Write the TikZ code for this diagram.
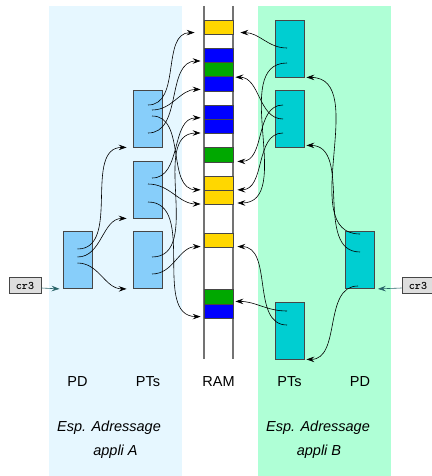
\documentclass[tikz,border=0pt]{standalone}
\usepackage{fontspec}
\setmainfont{Liberation Sans}
\usetikzlibrary{arrows.meta,calc}
\definecolor{bgA}{RGB}{230,247,255}
\definecolor{bgB}{RGB}{175,255,214}
\definecolor{ptAcol}{RGB}{135,206,250}
\definecolor{ptBcol}{RGB}{0,206,209}
\definecolor{ramY}{RGB}{255,215,0}
\definecolor{ramB}{RGB}{0,0,255}
\definecolor{ramG}{RGB}{0,168,0}
\definecolor{regcol}{RGB}{40,100,105}
\definecolor{edge}{RGB}{70,70,70}

\begin{document}
\begin{tikzpicture}[x=1pt,y=-1pt,
  tbl/.style={draw=edge,line width=.8pt,minimum width=29pt,minimum height=57pt,inner sep=0pt},
  cell/.style={draw=edge,line width=.8pt,minimum width=29pt,minimum height=14.2pt,inner sep=0pt},
  reg/.style={draw=edge,fill=black!13,line width=.7pt,inner sep=0pt,minimum width=32pt,minimum height=16pt,font=\fontsize{11.5}{12}\selectfont\ttfamily\bfseries},
  ptr/.style={-{Stealth[length=8pt,width=5.5pt,inset=3pt]},line width=.6pt},
  toR/.style={out=0,in=180},
  toL/.style={out=180,in=0},
  lbl/.style={font=\fontsize{14.5}{17}\selectfont},
  ilbl/.style={font=\fontsize{14.5}{17}\selectfont\itshape}]
  \useasboundingbox (0,0) rectangle (431,476);
  % address spaces
  \fill[bgA] (49,6) rectangle (182,476);
  \fill[bgB] (258,6) rectangle (391,476);
  % RAM
  \draw[black!55,line width=1.2pt] (204,6) -- (204,359) (233,6) -- (233,359);
  \foreach \i/\col in {0/ramY,2/ramB,3/ramG,4/ramB,6/ramB,7/ramB,9/ramG,11/ramY,12/ramY,15/ramY,19/ramG,20/ramB}
    \node[cell,fill=\col] (c\i) at (218.5,{27.1+14.2*\i}) {};
  % tables of appli A
  \node[tbl,fill=ptAcol] (pdA) at (77.5,260) {};
  \node[tbl,fill=ptAcol] (ptA1) at (148,118.5) {};
  \node[tbl,fill=ptAcol] (ptA2) at (148,189.5) {};
  \node[tbl,fill=ptAcol] (ptA3) at (148,260) {};
  % tables of appli B
  \node[tbl,fill=ptBcol] (pdB) at (360,260) {};
  \node[tbl,fill=ptBcol] (ptB1) at (289.5,48.5) {};
  \node[tbl,fill=ptBcol] (ptB2) at (289.5,118.5) {};
  \node[tbl,fill=ptBcol] (ptB3) at (289.5,330.5) {};
  % cr3 registers
  \node[reg] (cr3A) at (25,285.5) {cr3};
  \node[reg] (cr3B) at (418,285.5) {cr3};
  \draw[ptr,regcol] ($(cr3A.east)+(0,2.5)$) -- ($(pdA.south west)+(-3,0)$);
  \draw[ptr,regcol] ($(cr3B.west)+(0,2.5)$) -- ($(pdB.south east)+(3,0)$);
  % appli A: PD -> PTs -> RAM
  \draw[ptr] ($(pdA)+(0,-11)$) to[toR] ($(ptA1.south west)+(-6.5,0)$);
  \draw[ptr] ($(pdA)+(0,-3)$) to[toR] ($(ptA2.south west)+(-6.5,0)$);
  \draw[ptr] ($(pdA)+(0,3)$) to[toR] ($(ptA3.south west)+(-6.5,0)$);
  \draw[ptr] ($(ptA1)+(0,-13.5)$) to[toR] ($(c0.south west)+(-9,-2)$);
  \draw[ptr] ($(ptA1)+(4,-8.5)$) to[toR] ($(c4.south west)+(-3,-2)$);
  \draw[ptr] ($(ptA1)+(4,-2.5)$) to[toR] ($(c11.south west)+(-3,-1)$);
  \draw[ptr] ($(ptA1)+(0,14.5)$) to[toR] ($(c2.south west)+(-3,-2)$);
  \draw[ptr] ($(ptA2)+(4,-11.5)$) to[toR] ($(c6.south west)+(-3,-2)$);
  \draw[ptr] ($(ptA2)+(0,-5.5)$) to[toR] ($(c12.south west)+(-3,-1)$);
  \draw[ptr] ($(ptA2)+(0,12.5)$) to[toR] ($(c20.south west)+(-3,-2)$);
  \draw[ptr] ($(ptA3)+(4,-3)$) to[toR] ($(c7.south west)+(-3,-1)$);
  \draw[ptr] ($(ptA3)+(4,14)$) to[toR] ($(c15.south west)+(-3,-1)$);
  % appli B: PD -> PTs -> RAM
  \draw[ptr] ($(pdB)+(0,-26)$) to[toL] ($(ptB1.south east)+(2,0)$);
  \draw[ptr] ($(pdB)+(0,-8)$) to[toL] ($(ptB2.south east)+(2,-2)$);
  \draw[ptr] ($(pdB)+(-2,26)$) to[toL] ($(ptB3.south east)+(2,0)$);
  \draw[ptr] ($(ptB1)+(-2.5,-0.5)$) to[toL] ($(c0.south east)+(7,-2)$);
  \draw[ptr] ($(ptB1)+(-2.5,14.5)$) to[toL] ($(c12.south east)+(4,-2)$);
  \draw[ptr] ($(ptB2)+(-6.5,-13.5)$) to[toL] ($(c9.south east)+(4,-1)$);
  \draw[ptr] ($(ptB2)+(-6.5,0.5)$) to[toL] ($(c3.south east)+(2,0)$);
  \draw[ptr] ($(ptB2)+(-6.5,14.5)$) to[toL] ($(c11.south east)+(4,-1)$);
  \draw[ptr] ($(ptB3)+(-2.5,-19.5)$) to[toL] ($(c19.south east)+(2,-3)$);
  \draw[ptr] ($(ptB3)+(-2.5,-5.5)$) to[toL] ($(c15.south east)+(4,-1)$);
  % labels
  \node[lbl] (lPDA) at (77.5,382) {PD};
  \node[lbl] (lPTA) at (148,382) {PTs};
  \node[lbl] (lRAM) at (218.5,382) {RAM};
  \node[lbl] (lPTB) at (289.5,382) {PTs};
  \node[lbl] (lPDB) at (360,382) {PD};
  \node[ilbl] (espA) at (109,428) {Esp. Adressage};
  \node[ilbl] (appA) at (115.5,452) {appli A};
  \node[ilbl] (espB) at (318,428) {Esp. Adressage};
  \node[ilbl] (appB) at (319,452) {appli B};
\end{tikzpicture}
\end{document}
